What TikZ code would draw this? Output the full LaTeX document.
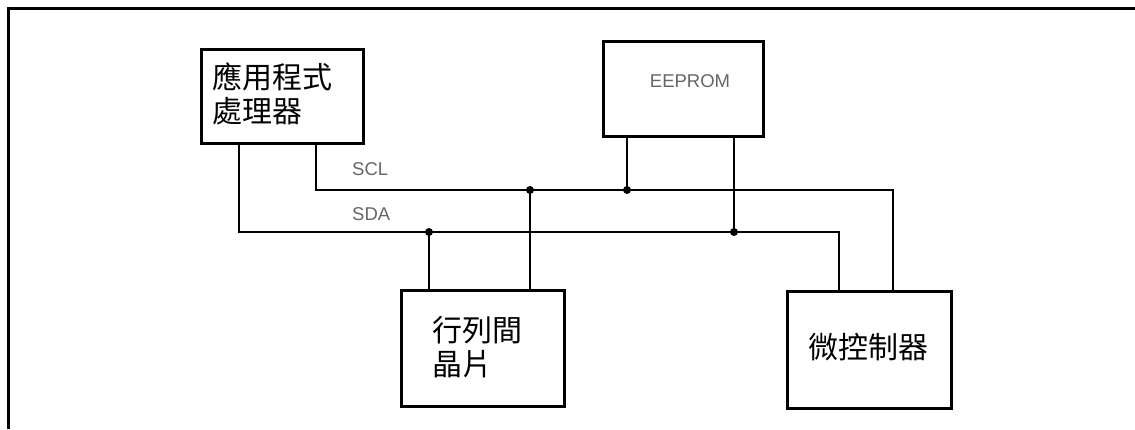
\documentclass[tikz,border=0pt]{standalone}
\usepackage{fontspec}
\setmainfont{Liberation Sans}
\newfontfamily\cjk{Noto Sans CJK TC}
\begin{document}
\begin{tikzpicture}[x=1pt,y=-1pt,
  box/.style={draw=black,line width=3pt,inner sep=0pt,anchor=north west},
  cjktext/.style={font=\cjk\fontsize{30}{34}\selectfont,inner sep=0pt,align=left},
  lbl/.style={font=\fontsize{18.5}{20}\selectfont,text=black!60,inner sep=0pt},
  thick lead/.style={line width=2.8pt},
  bus/.style={line width=2.1pt},
  thin lead/.style={line width=1.6pt},
  dot/.style={circle,fill=black,inner sep=0pt,minimum size=8pt}]
\useasboundingbox (0,0) rectangle (1135,429);
% frame
\draw[line width=3pt] (8.5,429) -- (8.5,8) -- (1135,8);
% boxes
\node[box,minimum width=162pt,minimum height=94pt] (app) at (200,48) {};
\node[box,minimum width=160pt,minimum height=95pt] (eeprom) at (602,40) {};
\node[box,minimum width=163pt,minimum height=116pt] (chip) at (400,289) {};
\node[box,minimum width=164pt,minimum height=117pt] (mcu) at (786,290) {};
% texts
\node[cjktext,anchor=west] (appT) at (212,94) {應用程式\\處理器};
\node[cjktext,anchor=west] (chipT) at (432,347) {行列間\\晶片};
\node[cjktext,anchor=center] (mcuT) at (868,347) {微控制器};
\node[lbl,anchor=center] (eepT) at (690,81) {EEPROM};
\node[lbl,anchor=west] (sclT) at (352,169) {SCL};
\node[lbl,anchor=west] (sdaT) at (352,214) {SDA};
% bus coordinates
\coordinate (sclA) at (316,142);
\coordinate (sdaA) at (239,142);
\coordinate (sclM) at (893,290);
\coordinate (sdaM) at (839,290);
\node[dot] (d1) at (530,190) {};
\node[dot] (d2) at (627,190) {};
\node[dot] (d3) at (429,232) {};
\node[dot] (d4) at (734,232) {};
% SCL bus
\draw[bus] (sclA) |- (d1.center) -- (d2.center) -| (sclM);
% SDA bus
\draw[thin lead] (sdaA) |- (d3.center) -- (d4.center) -| (sdaM);
% leads
\draw[thin lead] (627,135) -- (d2.center);
\draw[thick lead] (734,135) -- (d4.center);
\draw[thick lead] (d1.center) -- (530,289);
\draw[thick lead] (d3.center) -- (429,289);
\end{tikzpicture}
\end{document}
